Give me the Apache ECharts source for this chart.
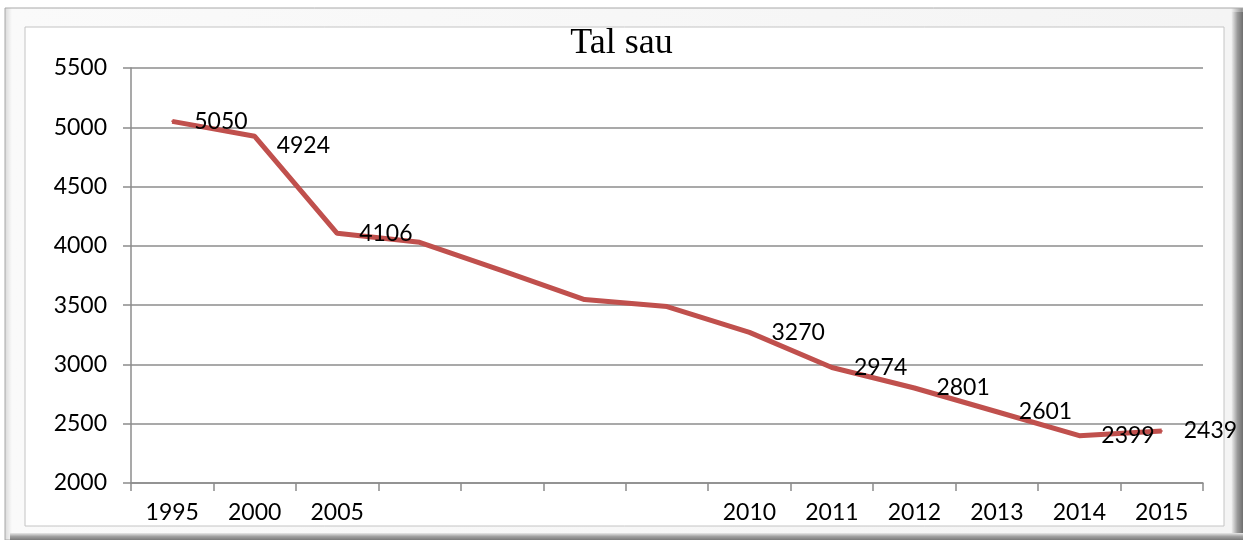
<!DOCTYPE html>
<html>
    <head>
        <meta charset="utf-8">
        <script src="https://cdn.jsdelivr.net/npm/echarts@6/dist/echarts.min.js"></script>
        <style type="text/css">
            #main {height:540px;width:1243px;position:absolute;}
            body {margin:0px;padding:0px;overflow:hidden;background:#fff;}
        </style>
    </head>
    <body>
        <div id="main"></div>
        <script type="text/javascript">
            // tick labels on the category axis (blank ones are years without a label)
            let years = ['1995','2000','2005','','','','','2010','2011','2012','2013','2014','2015']
            // number of cattle ("Tal sau")
            let values = [5050,4924,4106,4030,3792,3547,3488,3270,2974,2801,2601,2399,2439]
            let yTicks = {min:2000, max:5500, step:500}

            let myChart = echarts.init(document.getElementById('main'));
            let grey = '#8c8c8c'

            let option = {
                animation: false,
                title:{
                    text:'Tal sau',
                    left:'center',
                    top:26,
                    padding:0,
                    textStyle:{
                        fontFamily:'Liberation Serif',
                        fontSize:36,
                        fontWeight:'normal',
                        color:'#000'
                    }
                },
                // frame with the bevel round the chart
                graphic:[
                    {type:'rect', z:-10, shape:{x:5,y:8,width:1238,height:532},
                        style:{fill:{type:'linear',x:0,y:0,x2:1,y2:0,colorStops:[
                            {offset:0,color:'#d8d8d8'},{offset:0.006,color:'#fafafa'},
                            {offset:0.99,color:'#f4f4f4'},{offset:1,color:'#8a8a8a'}]},
                            stroke:'#a8a8a8',lineWidth:1}},
                    {type:'rect', z:-9, shape:{x:1232,y:12,width:11,height:528},
                        style:{fill:{type:'linear',x:0,y:0,x2:1,y2:0,colorStops:[
                            {offset:0,color:'#e8e8e8'},{offset:0.5,color:'#9a9a9a'},{offset:1,color:'#6e6e6e'}]}}},
                    {type:'rect', z:-9, shape:{x:10,y:533,width:1233,height:7},
                        style:{fill:{type:'linear',x:0,y:0,x2:0,y2:1,colorStops:[
                            {offset:0,color:'#e8e8e8'},{offset:0.5,color:'#a0a0a0'},{offset:1,color:'#7a7a7a'}]}}},
                    {type:'rect', z:-8, shape:{x:25,y:27,width:1199,height:499},
                        style:{fill:'#fff',stroke:'#c4c4c4',lineWidth:1}}
                ],
                grid:{
                    left:131,
                    right:40,
                    top:68,
                    bottom:57,
                    containLabel:false,
                    outerBoundsMode:'none'
                },
                xAxis:{
                    type:'category',
                    data:years,
                    boundaryGap:true,
                    axisLine:{lineStyle:{color:grey,width:1.5}},
                    axisTick:{show:true,interval:0,length:8,lineStyle:{color:grey,width:1.5}},
                    axisLabel:{
                        interval:0,
                        margin:18,
                        fontFamily:'Lato',
                        fontSize:23,
                        color:'#000'
                    },
                    splitLine:{show:false}
                },
                yAxis:{
                    type:'value',
                    min:yTicks.min,
                    max:yTicks.max,
                    interval:yTicks.step,
                    axisLine:{show:true,lineStyle:{color:grey,width:1.5}},
                    axisTick:{show:true,length:8,lineStyle:{color:grey,width:1.5}},
                    axisLabel:{
                        margin:24,
                        fontFamily:'Lato',
                        fontSize:23,
                        color:'#000',
                        formatter:function(v){ return String(v); }
                    },
                    splitLine:{show:true,lineStyle:{color:grey,width:1.5}}
                },
                series:[{
                    type:'line',
                    data:values,
                    symbol:'circle',
                    symbolSize:2,
                    showSymbol:true,
                    lineStyle:{color:'#c0504d',width:5},
                    itemStyle:{color:'#c0504d'},
                    label:{
                        show:true,
                        position:'right',
                        distance:21,
                        fontFamily:'Lato',
                        fontSize:23,
                        color:'#000',
                        // no label where the year has none
                        formatter:function(p){ return years[p.dataIndex] === '' ? '' : p.value; }
                    },
                    labelLayout:function(p){
                        // 4924 sits a little under its point
                        if (p.dataIndex === 1) return {dy:9};
                        return {};
                    }
                }]
            };
            myChart.setOption(option);
            window.onresize = myChart.resize;
        </script>
    </body>
</html>
